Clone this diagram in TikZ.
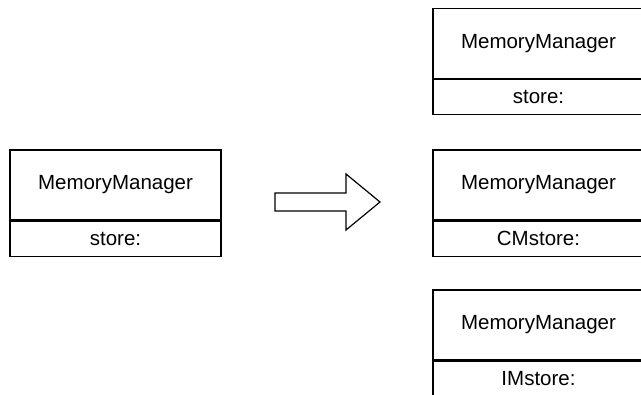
\documentclass[tikz,border=0pt]{standalone}
\usepackage{fontspec}
\setmainfont{Liberation Sans}
\usetikzlibrary{positioning}

\begin{document}
\begin{tikzpicture}[line cap=round,line join=miter,x=1pt,y=-1pt,
  namebox/.style={draw,line width=1.2pt,minimum width=211pt,minimum height=70pt,inner sep=0pt,font=\fontsize{20.5}{24}\selectfont},
  fieldbox/.style={draw,line width=1.2pt,minimum width=211pt,minimum height=35pt,inner sep=0pt,font=\fontsize{20.5}{24}\selectfont}]
\useasboundingbox (0,0) rectangle (641,395);
\clip (0,0) rectangle (641,395);
% left class
\node[namebox] (mmleft) at (115.5,185) {MemoryManager};
\node[fieldbox,below=0pt of mmleft] (storeleft) {store:};
% block arrow
\draw[line width=1.2pt] (275,193) -- (346,193) -- (346,174) -- (380,202) -- (346,230) -- (346,211) -- (275,211) -- cycle;
% right classes
\node[namebox] (mmtop) at (538.5,43.5) {MemoryManager};
\node[fieldbox,below=0pt of mmtop] (storetop) {store:};
\node[namebox] (mmmid) at (538.5,185) {MemoryManager};
\node[fieldbox,below=0pt of mmmid] (storemid) {CMstore:};
\node[namebox] (mmbot) at (538.5,325) {MemoryManager};
\node[fieldbox,below=0pt of mmbot] (storebot) {IMstore:};
\end{tikzpicture}
\end{document}
